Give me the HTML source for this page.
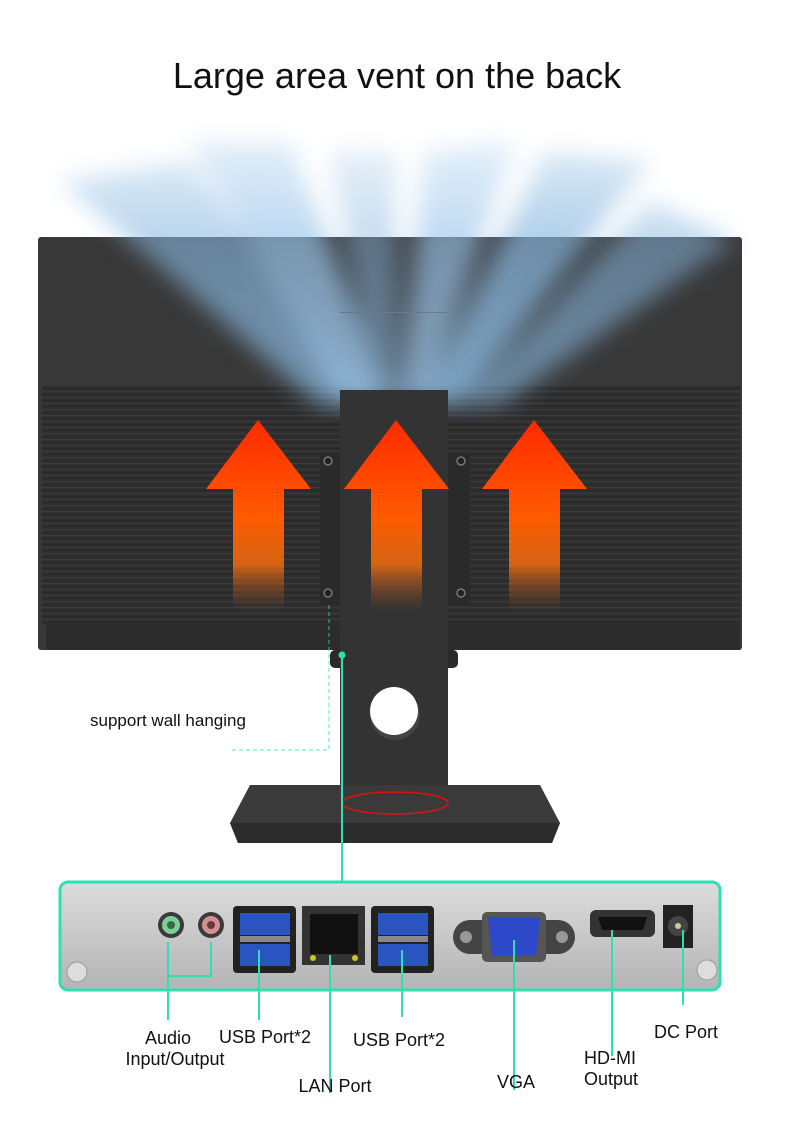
<!DOCTYPE html>
<html><head><meta charset="utf-8"><style>
html,body{margin:0;padding:0;background:#fff;}
svg{display:block;}
text{font-family:"Liberation Sans",Arial,sans-serif;fill:#111;}
</style></head><body>
<svg width="790" height="1147" viewBox="0 0 790 1147" xmlns="http://www.w3.org/2000/svg">
<defs>
<linearGradient id="ar" x1="0" y1="0" x2="0" y2="1">
<stop offset="0" stop-color="#ff2a00"/><stop offset="0.5" stop-color="#ff5a00"/><stop offset="0.75" stop-color="#e86a10" stop-opacity="0.9"/><stop offset="1" stop-color="#8a4a2a" stop-opacity="0"/>
</linearGradient>
<linearGradient id="panel" x1="0" y1="0" x2="0" y2="1">
<stop offset="0" stop-color="#dcdcdc"/><stop offset="1" stop-color="#b4b4b4"/>
</linearGradient>
<linearGradient id="fade" x1="0" y1="0" x2="0" y2="1">
<stop offset="0" stop-color="#fff" stop-opacity="0.15"/><stop offset="0.45" stop-color="#fff" stop-opacity="0.8"/><stop offset="1" stop-color="#fff" stop-opacity="1"/>
</linearGradient>
<mask id="m" maskUnits="userSpaceOnUse" x="0" y="100" width="790" height="320"><rect x="0" y="100" width="790" height="320" fill="url(#fade)"/></mask>
<pattern id="stripe" width="700" height="6" patternUnits="userSpaceOnUse">
<rect width="700" height="6" fill="#2f2f2f"/>
<rect y="1" width="700" height="1" fill="#3a3a3a"/>
<rect y="4" width="700" height="1" fill="#282828"/>
</pattern>
<filter id="bl" x="-20%" y="-20%" width="140%" height="140%"><feGaussianBlur stdDeviation="12"/></filter>
</defs>

<text x="397" y="88" font-size="36" text-anchor="middle">Large area vent on the back</text>

<!-- monitor -->
<rect x="38" y="237" width="704" height="413" rx="3" fill="#383838"/>
<rect x="42" y="385" width="698" height="240" fill="url(#stripe)"/>
<rect x="46" y="625" width="694" height="25" fill="#2c2c2c"/>

<!-- vent glow -->
<g filter="url(#bl)" mask="url(#m)">
<polygon points="60,180 190,160 370,405 320,405" fill="#8ab8e0" opacity="0.75"/>
<polygon points="190,140 290,140 390,405 345,405" fill="#9ac4ea" opacity="0.85"/>
<polygon points="330,150 395,150 400,405 375,405" fill="#8ab8e0" opacity="0.6"/>
<polygon points="425,150 515,140 425,405 400,405" fill="#9ac4ea" opacity="0.8"/>
<polygon points="545,150 650,160 460,405 420,405" fill="#8ab8e0" opacity="0.85"/>
<polygon points="650,200 735,240 500,405 460,405" fill="#8ab8e0" opacity="0.65"/>
</g>
<rect x="340" y="312" width="110" height="1" fill="#6a7a88"/>

<!-- VESA plate -->
<rect x="320" y="452" width="150" height="152" rx="4" fill="#2a2a2a"/>
<g fill="#222" stroke="#777" stroke-width="1.5">
<circle cx="328" cy="461" r="4"/><circle cx="461" cy="461" r="4"/>
<circle cx="328" cy="593" r="4"/><circle cx="461" cy="593" r="4"/>
</g>
<!-- neck -->
<rect x="340" y="390" width="108" height="430" fill="#333"/>
<rect x="330" y="650" width="128" height="18" rx="5" fill="#2a2a2a"/>
<rect x="340" y="650" width="108" height="170" fill="#333"/>
<circle cx="395" cy="715" r="25" fill="#444"/>
<circle cx="394" cy="711" r="24" fill="#fff"/>

<!-- arrows -->
<g fill="url(#ar)">
<polygon points="258,420 311,489 284,489 284,612 233,612 233,489 206,489"/>
<polygon points="396,420 449,489 422,489 422,612 371,612 371,489 344,489"/>
<polygon points="534,420 587,489 560,489 560,612 509,612 509,489 482,489"/>
</g>

<!-- base -->
<polygon points="250,785 540,785 560,823 552,843 238,843 230,823" fill="#3a3a3a"/>
<polygon points="230,823 560,823 552,843 238,843" fill="#2c2c2c"/>
<ellipse cx="395" cy="803" rx="53" ry="11" fill="none" stroke="#e01010" stroke-width="1.5"/>

<!-- support wall line -->
<polyline points="329,605 329,750 231,750" fill="none" stroke="#2de0b0" stroke-width="1" stroke-dasharray="4,3" opacity="0.8"/>
<text x="90" y="726" font-size="17">support wall hanging</text>
<line x1="342" y1="655" x2="342" y2="883" stroke="#2de0b0" stroke-width="2"/>
<circle cx="342" cy="655" r="3.5" fill="#2de0b0"/>

<!-- port panel -->
<rect x="60" y="882" width="660" height="108" rx="8" fill="url(#panel)" stroke="#2de0b0" stroke-width="3"/>
<circle cx="77" cy="972" r="10" fill="#ddd" stroke="#999"/>
<circle cx="707" cy="970" r="10" fill="#ddd" stroke="#999"/>
<!-- audio -->
<circle cx="171" cy="925" r="13" fill="#3a3a3a"/><circle cx="171" cy="925" r="9" fill="#7ccf9a"/><circle cx="171" cy="925" r="4" fill="#3a6a4a"/>
<circle cx="211" cy="925" r="13" fill="#3a3a3a"/><circle cx="211" cy="925" r="9" fill="#d49090"/><circle cx="211" cy="925" r="4" fill="#6a3a3a"/>
<!-- usb 1 -->
<rect x="233" y="906" width="63" height="67" rx="4" fill="#222"/>
<rect x="240" y="913" width="50" height="22" fill="#2a55c0"/>
<rect x="240" y="936" width="50" height="6" fill="#888"/>
<rect x="240" y="944" width="50" height="22" fill="#2a55c0"/>
<!-- lan -->
<rect x="302" y="906" width="63" height="59" fill="#333"/>
<rect x="310" y="914" width="48" height="40" fill="#111"/>
<circle cx="313" cy="958" r="3" fill="#c8c820"/><circle cx="355" cy="958" r="3" fill="#c8c820"/>
<!-- usb 2 -->
<rect x="371" y="906" width="63" height="67" rx="4" fill="#222"/>
<rect x="378" y="913" width="50" height="22" fill="#2a55c0"/>
<rect x="378" y="936" width="50" height="6" fill="#888"/>
<rect x="378" y="944" width="50" height="22" fill="#2a55c0"/>
<!-- vga -->
<rect x="453" y="920" width="122" height="34" rx="17" fill="#444"/>
<circle cx="466" cy="937" r="6" fill="#999"/><circle cx="562" cy="937" r="6" fill="#999"/>
<rect x="482" y="912" width="64" height="50" rx="5" fill="#555"/>
<polygon points="488,917 540,917 536,956 492,956" fill="#2d48c8"/>
<!-- hdmi -->
<rect x="590" y="910" width="65" height="27" rx="6" fill="#333"/>
<polygon points="598,917 647,917 643,930 602,930" fill="#111"/>
<!-- dc -->
<rect x="663" y="905" width="30" height="43" fill="#222"/>
<circle cx="678" cy="926" r="10" fill="#444"/><circle cx="678" cy="926" r="3" fill="#cc9"/>

<!-- leader lines -->
<g stroke="#2de0b0" stroke-width="2" fill="none">
<polyline points="168,942 168,976 211,976 211,942"/>
<line x1="168" y1="976" x2="168" y2="1020"/>
<line x1="259" y1="950" x2="259" y2="1020"/>
<line x1="330" y1="955" x2="330" y2="1093"/>
<line x1="402" y1="950" x2="402" y2="1017"/>
<line x1="514" y1="940" x2="514" y2="1090"/>
<line x1="612" y1="930" x2="612" y2="1056"/>
<line x1="683" y1="930" x2="683" y2="1005"/>
</g>

<g font-size="18">
<text x="168" y="1044" text-anchor="middle">Audio</text>
<text x="175" y="1065" text-anchor="middle">Input/Output</text>
<text x="219" y="1043">USB Port*2</text>
<text x="335" y="1092" text-anchor="middle">LAN Port</text>
<text x="353" y="1046">USB Port*2</text>
<text x="516" y="1088" text-anchor="middle">VGA</text>
<text x="584" y="1064">HD-MI</text>
<text x="584" y="1085">Output</text>
<text x="654" y="1038">DC Port</text>
</g>
</svg>
</body></html>
